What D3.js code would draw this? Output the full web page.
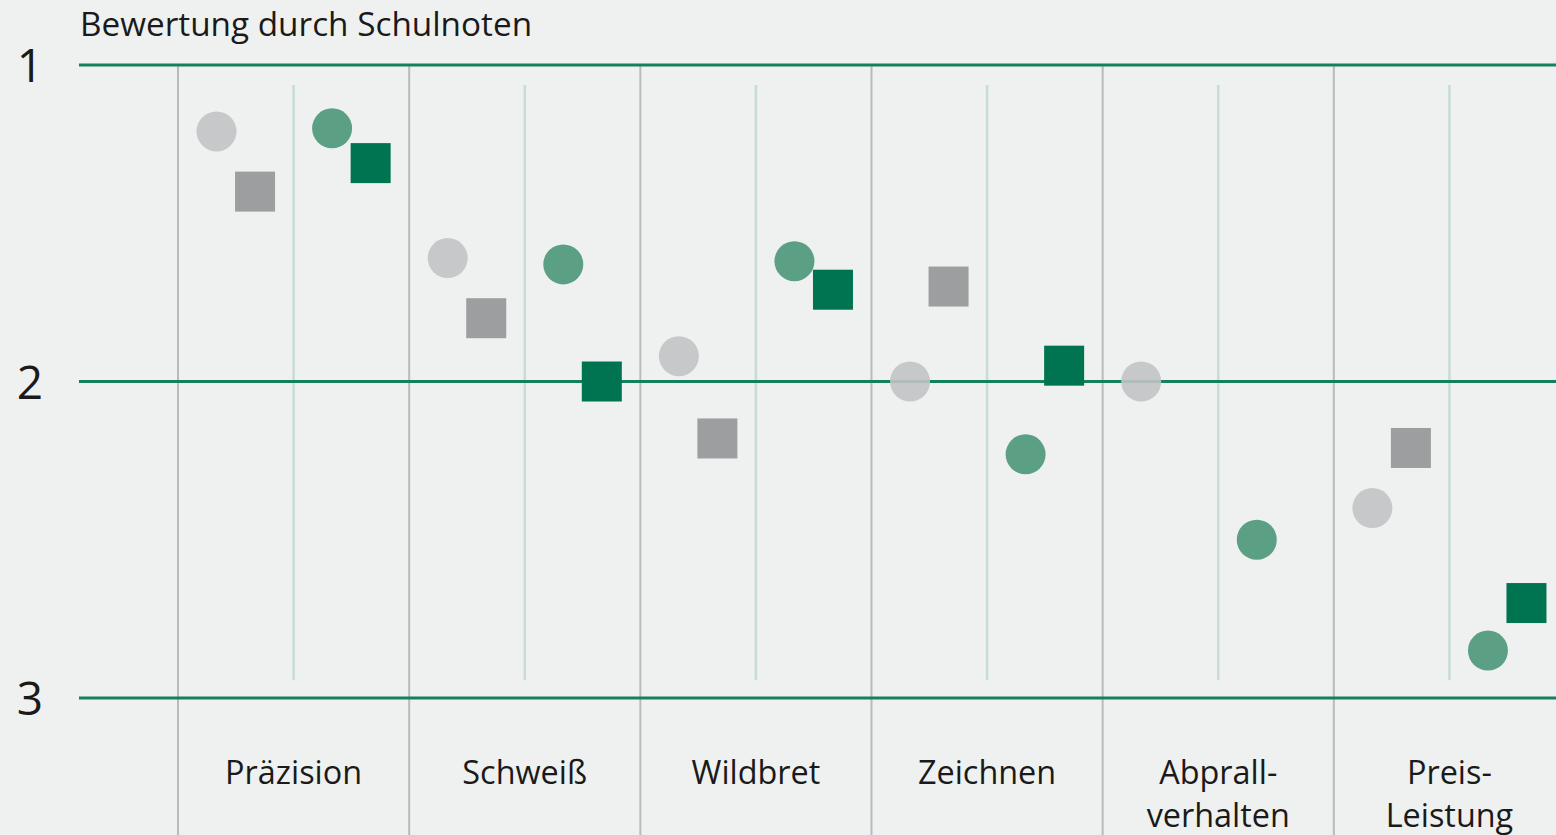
<!DOCTYPE html>
<html>
<head>
<meta charset="utf-8">
<script src="https://cdn.jsdelivr.net/npm/d3@7"></script>
<style>
  html, body { margin: 0; padding: 0; background: #eff1f0; }
  svg { display: block; font-family: "Open Sans", sans-serif; }
</style>
</head>
<body>
<svg id="chart"></svg>
<script>
// categories (line breaks as in the original labels)
const categories = ["Präzision", "Schweiß", "Wildbret", "Zeichnen", "Abprall-\nverhalten", "Preis-\nLeistung"];
const grades = [1, 2, 3];

// four series (school grades, null = no mark)
const lightCircle = [1.21, 1.61, 1.92, 2.00, 2.00, 2.40];
const graySquare  = [1.40, 1.80, 2.18, 1.70, null, 2.21];
const greenCircle = [1.20, 1.63, 1.62, 2.23, 2.50, 2.85];
const darkSquare  = [1.31, 2.00, 1.71, 1.95, null, 2.70];

const width = 1556, height = 835;

const series = [
    { key: "lightCircle", values: lightCircle, shape: "circle", color: "#c2c3c5", opacity: 0.9 },
    { key: "graySquare",  values: graySquare,  shape: "square", color: "#9d9e9f", opacity: 1 },
    { key: "greenCircle", values: greenCircle, shape: "circle", color: "#5b9f85", opacity: 1 },
    { key: "darkSquare",  values: darkSquare,  shape: "square", color: "#007350", opacity: 1 }
];

let svg = d3.select("#chart")
    .attr("width", width)
    .attr("height", height);

let xScale = d3.scaleBand().domain(categories).range([178, 1565]);
// position of each series inside a category band (fraction of the band)
let inner = d3.scaleOrdinal().domain(series.map(s => s.key))
    .range([1 / 6, 2 / 6, 4 / 6, 5 / 6].map(f => f * xScale.bandwidth()));
let yScale = d3.scaleLinear().domain([1, 3]).range([65, 698]);

// column dividers
svg.append("g")
    .selectAll("line")
    .data(categories)
    .join("line")
    .attr("x1", d => xScale(d))
    .attr("x2", d => xScale(d))
    .attr("y1", yScale(1))
    .attr("y2", height)
    .attr("stroke", "#b9babb")
    .attr("stroke-width", 2);

// light centre lines
svg.append("g")
    .selectAll("line")
    .data(categories)
    .join("line")
    .attr("x1", d => xScale(d) + xScale.bandwidth() / 2)
    .attr("x2", d => xScale(d) + xScale.bandwidth() / 2)
    .attr("y1", 85)
    .attr("y2", 680)
    .attr("stroke", "#c8ddd2")
    .attr("stroke-width", 2.5);

// grade lines
svg.append("g")
    .selectAll("line")
    .data(grades)
    .join("line")
    .attr("x1", 79)
    .attr("x2", width)
    .attr("y1", d => yScale(d))
    .attr("y2", d => yScale(d))
    .attr("stroke", "#15805e")
    .attr("stroke-width", 3);

// grade labels
svg.append("g")
    .selectAll("text")
    .data(grades)
    .join("text")
    .attr("x", 30)
    .attr("y", d => yScale(d) + 17)
    .attr("text-anchor", "middle")
    .attr("font-size", "46px")
    .attr("fill", "#1a1a1a")
    .text(d => d);

// title
svg.append("text")
    .attr("x", 80)
    .attr("y", 36)
    .attr("font-size", "33.3px")
    .attr("fill", "#1a1a1a")
    .text("Bewertung durch Schulnoten");

// category labels
const labels = svg.append("g")
    .selectAll("text")
    .data(categories)
    .join("text")
    .attr("x", d => xScale(d) + xScale.bandwidth() / 2)
    .attr("y", 784)
    .attr("text-anchor", "middle")
    .attr("font-size", "32.4px")
    .attr("fill", "#1a1a1a");

labels.selectAll("tspan")
    .data(d => d.split("\n"))
    .join("tspan")
    .attr("x", function() { return this.parentNode.getAttribute("x"); })
    .attr("dy", (d, i) => i === 0 ? 0 : 43)
    .text(d => d);

// markers
const size = 40;
series.forEach(s => {
    const pts = categories.map((c, i) => ({ cat: c, v: s.values[i] })).filter(d => d.v != null);
    const g = svg.append("g").attr("class", s.key);
    if (s.shape === "circle") {
        g.selectAll("circle")
            .data(pts)
            .join("circle")
            .attr("cx", d => xScale(d.cat) + inner(s.key))
            .attr("cy", d => yScale(d.v))
            .attr("r", size / 2)
            .attr("fill", s.color)
            .attr("opacity", s.opacity);
    } else {
        g.selectAll("rect")
            .data(pts)
            .join("rect")
            .attr("x", d => xScale(d.cat) + inner(s.key) - size / 2)
            .attr("y", d => yScale(d.v) - size / 2)
            .attr("width", size)
            .attr("height", size)
            .attr("fill", s.color);
    }
});
</script>
</body>
</html>
